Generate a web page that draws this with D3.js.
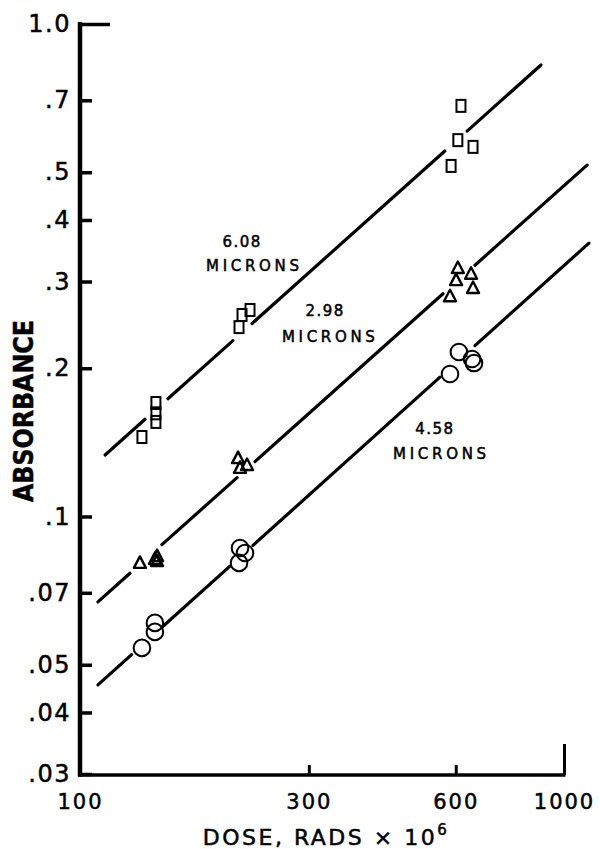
<!DOCTYPE html>
<html>
<head>
<meta charset="utf-8">
<script src="https://cdnjs.cloudflare.com/ajax/libs/d3/7.8.5/d3.min.js"></script>
<style>
  body { margin: 0; background: #fff; }
  svg { display: block; }
  text { font-family: 'DejaVu Sans', sans-serif; fill: #000; stroke: #000; stroke-width: 0.5px; }
</style>
</head>
<body>
<div id="chart"></div>
<script>
const yTicks = [1.0, 0.7, 0.5, 0.4, 0.3, 0.2, 0.1, 0.07, 0.05, 0.04, 0.03];
const yTickLabels = ['1.0', '.7', '.5', '.4', '.3', '.2', '.1', '.07', '.05', '.04', '.03'];
const xTicks = [100, 300, 600, 1000];
const xTickLabels = ['100', '300', '600', '1000'];

// 6.08 microns - squares
const dose608 = [136.5, 145.8, 145.8, 145.8, 215.8, 218.9, 227.3, 615, 606, 651, 587];
const abs608 = [0.145, 0.1556, 0.162, 0.170, 0.2424, 0.2565, 0.2626, 0.682, 0.581, 0.563, 0.515];
// 2.98 microns - triangles
const dose298 = [135.2, 145.1, 146.6, 146.6, 214.8, 224.1, 216.8, 606, 601, 645, 651, 584];
const abs298 = [0.0805, 0.082, 0.0812, 0.0831, 0.1314, 0.1272, 0.1255, 0.3196, 0.302, 0.311, 0.291, 0.280];
// 4.58 microns - circles
const dose458 = [136.5, 145.1, 145.1, 216.8, 222, 215.8, 609, 648, 654, 584];
const abs458 = [0.0541, 0.0608, 0.0583, 0.0863, 0.0843, 0.0805, 0.2158, 0.2088, 0.2049, 0.1947];

// fitted lines (608, 298, 458): ends and the gaps left around the points
const fitStart = [[114.7, 0.1333], [110.9, 0.0671], [110.9, 0.0455]];
const fitEnd = [[897, 0.8256], [1115, 0.517], [1125, 0.359]];
const fitGaps = [
  [[138.5, 154.3], [209.7, 229.5], [570, 633]],
  [[129, 150], [213.8, 232.7], [565, 657]],
  [[130, 150.8], [206.8, 230.5], [557, 657]]
];

const seriesNames = ['6.08', '2.98', '4.58'];
const nameDose = [219, 324, 544];
const nameAbs = [0.352, 0.255, 0.147];
const unitDose = [230, 329, 556];
const unitAbs = [0.315, 0.226, 0.1308];

const width = 600;
const height = 849;
const axisX = 80;
const axisY = 775;

const svg = d3.select('#chart')
  .append('svg')
  .attr('width', width)
  .attr('height', height);

const x = d3.scaleLog().domain([100, 1000]).range([76, 564]);
const y = d3.scaleLog().domain([0.03, 1.0]).range([774, 24]);

// y axis
const gy = svg.append('g')
  .attr('transform', `translate(${axisX},0)`)
  .call(d3.axisLeft(y)
    .tickValues(yTicks)
    .tickFormat((d) => yTickLabels[yTicks.indexOf(d)])
    .tickSize(-12)
    .tickSizeOuter(0)
    .tickPadding(9));
gy.select('.domain').remove();
gy.selectAll('.tick line').attr('stroke', '#000').attr('stroke-width', 3.5);
gy.selectAll('.tick line').filter((d) => d === 1).attr('x2', 30);
gy.selectAll('.tick text')
  .attr('font-size', 24)
  .attr('letter-spacing', 1.5)
  .attr('font-family', 'DejaVu Sans');

// x axis
const gx = svg.append('g')
  .attr('transform', `translate(0,${axisY})`)
  .call(d3.axisBottom(x)
    .tickValues(xTicks)
    .tickFormat((d) => xTickLabels[xTicks.indexOf(d)])
    .tickSize(-10)
    .tickSizeOuter(0)
    .tickPadding(19));
gx.select('.domain').remove();
gx.selectAll('.tick line').attr('stroke', '#000').attr('stroke-width', 3);
gx.selectAll('.tick line').filter((d) => d === 100).remove();
gx.selectAll('.tick line').filter((d) => d === 1000).attr('y2', -31);
gx.selectAll('.tick text')
  .attr('font-size', 21)
  .attr('letter-spacing', 2)
  .attr('font-family', 'DejaVu Sans')
  .attr('dx', (d) => d === 100 ? 4 : 0);

svg.append('line')
  .attr('x1', axisX).attr('x2', axisX)
  .attr('y1', y(1.0) - 2).attr('y2', axisY + 1.5)
  .attr('stroke', '#000').attr('stroke-width', 4.5);
svg.append('line')
  .attr('x1', axisX - 2).attr('x2', x(1000) + 1.5)
  .attr('y1', axisY).attr('y2', axisY)
  .attr('stroke', '#000').attr('stroke-width', 3.5);

// axis titles
svg.append('text')
  .attr('transform', `translate(33,411) rotate(-90)`)
  .attr('text-anchor', 'middle')
  .attr('font-size', 26)
  .attr('font-weight', 'bold')
  .attr('textLength', 182)
  .attr('lengthAdjust', 'spacingAndGlyphs')
  .text('ABSORBANCE');

const xt = svg.append('text')
  .attr('x', 326)
  .attr('y', 845)
  .attr('text-anchor', 'middle')
  .attr('font-size', 22)
  .attr('letter-spacing', 2.5);
xt.append('tspan').text('DOSE, RADS × 10');
xt.append('tspan').attr('font-size', 15).attr('dy', -10).text('6');

// fit lines, broken around the points
function fitAt(i, d) {
  const [d0, a0] = fitStart[i];
  const [d1, a1] = fitEnd[i];
  const b = Math.log(a1 / a0) / Math.log(d1 / d0);
  return a0 * Math.pow(d / d0, b);
}

const line = d3.line().x((d) => x(d[0])).y((d) => y(d[1]));

seriesNames.forEach((name, i) => {
  const cuts = [fitStart[i][0]];
  fitGaps[i].forEach((g) => { cuts.push(g[0], g[1]); });
  cuts.push(fitEnd[i][0]);
  for (let s = 0; s < cuts.length; s += 2) {
    svg.append('path')
      .attr('d', line([[cuts[s], fitAt(i, cuts[s])], [cuts[s + 1], fitAt(i, cuts[s + 1])]]))
      .attr('fill', 'none')
      .attr('stroke', '#000')
      .attr('stroke-width', 3.2)
      .attr('stroke-linecap', 'round');
  }
});

// markers
svg.selectAll('rect.sq')
  .data(d3.zip(dose608, abs608))
  .enter()
  .append('rect')
  .attr('class', 'sq')
  .attr('x', (d) => x(d[0]) - 4.5)
  .attr('y', (d) => y(d[1]) - 6)
  .attr('width', 9)
  .attr('height', 12)
  .attr('fill', 'none')
  .attr('stroke', '#000')
  .attr('stroke-width', 2);

svg.selectAll('path.tri')
  .data(d3.zip(dose298, abs298))
  .enter()
  .append('path')
  .attr('class', 'tri')
  .attr('d', 'M0,-6.5L6,5L-6,5Z')
  .attr('transform', (d) => `translate(${x(d[0])},${y(d[1])})`)
  .attr('fill', 'none')
  .attr('stroke', '#000')
  .attr('stroke-width', 2.4)
  .attr('stroke-linejoin', 'round');

svg.selectAll('circle.dot')
  .data(d3.zip(dose458, abs458))
  .enter()
  .append('circle')
  .attr('class', 'dot')
  .attr('cx', (d) => x(d[0]))
  .attr('cy', (d) => y(d[1]))
  .attr('r', 8.3)
  .attr('fill', 'none')
  .attr('stroke', '#000')
  .attr('stroke-width', 2);

// series labels
svg.selectAll('text.name')
  .data(seriesNames)
  .enter()
  .append('text')
  .attr('class', 'name')
  .attr('x', (d, i) => x(nameDose[i]))
  .attr('y', (d, i) => y(nameAbs[i]))
  .attr('text-anchor', 'middle')
  .attr('font-size', 15)
  .attr('letter-spacing', 1.5)
  .text((d) => d);

svg.selectAll('text.unit')
  .data(seriesNames)
  .enter()
  .append('text')
  .attr('class', 'unit')
  .attr('x', (d, i) => x(unitDose[i]))
  .attr('y', (d, i) => y(unitAbs[i]))
  .attr('text-anchor', 'middle')
  .attr('font-size', 15)
  .attr('textLength', 93)
  .attr('lengthAdjust', 'spacing')
  .text('MICRONS');
</script>
</body>
</html>
